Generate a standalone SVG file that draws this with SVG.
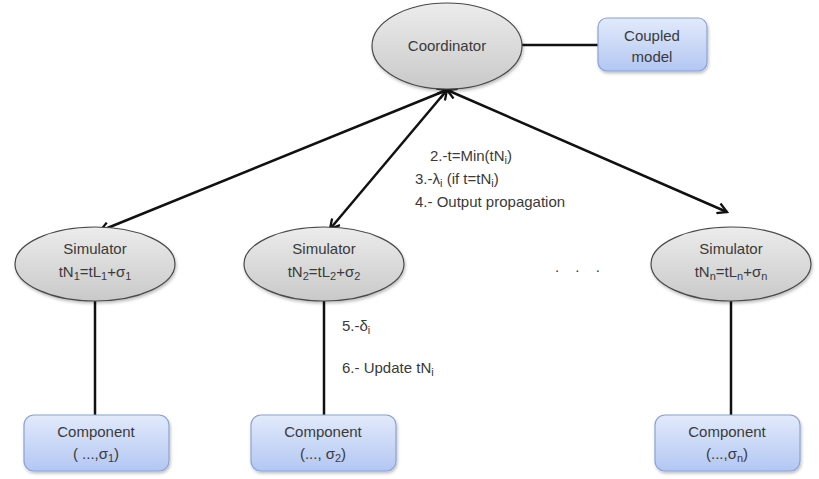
<svg xmlns="http://www.w3.org/2000/svg" width="819" height="479" viewBox="0 0 819 479">
<defs>
<linearGradient id="gGray" x1="0" y1="0" x2="0" y2="1">
<stop offset="0" stop-color="#ececec"/><stop offset="1" stop-color="#c9c9c9"/>
</linearGradient>
<linearGradient id="gBlue" x1="0" y1="0" x2="0" y2="1">
<stop offset="0" stop-color="#e2eafb"/><stop offset="1" stop-color="#b3c7f3"/>
</linearGradient>
<marker id="arr" viewBox="0 0 12 12" refX="10" refY="6" markerWidth="5" markerHeight="5" orient="auto-start-reverse">
<path d="M1,1 L10,6 L1,11" fill="none" stroke="#111" stroke-width="2.2" stroke-linejoin="miter"/>
</marker>
<filter id="sh" x="-10%" y="-10%" width="130%" height="140%">
<feDropShadow dx="1" dy="2" stdDeviation="1.5" flood-color="#000" flood-opacity="0.25"/>
</filter>
</defs>
<style>
.ell{fill:url(#gGray);stroke:#4a4a4a;stroke-width:1.2}
.box{fill:url(#gBlue);stroke:#8aa2d6;stroke-width:1.2}
.t{font-family:"Liberation Sans","Open Sans",sans-serif;font-size:15px;fill:#3a3a3a}
.c{text-anchor:middle}
.ln{stroke:#111;stroke-width:2.5;fill:none}
.s{font-size:11px}
</style>
<rect width="819" height="479" fill="#fff"/>
<g id="connectors">
<line class="ln" x1="521" y1="45" x2="598" y2="45"/>
<line class="ln" x1="447" y1="90" x2="100" y2="231" marker-start="url(#arr)" marker-end="url(#arr)"/>
<line class="ln" x1="447" y1="90" x2="330" y2="229" marker-start="url(#arr)" marker-end="url(#arr)"/>
<line class="ln" x1="447" y1="90" x2="727" y2="212" marker-start="url(#arr)" marker-end="url(#arr)"/>
<line class="ln" x1="95" y1="301" x2="95" y2="415"/>
<line class="ln" x1="324" y1="301" x2="324" y2="415"/>
<line class="ln" x1="731" y1="301" x2="731" y2="415"/>
<text class="t" x="430" y="161">2.-t=Min(tN<tspan class="s" dy="3">i</tspan><tspan dy="-3">)</tspan></text>
<text class="t" x="415" y="184">3.-λ<tspan class="s" dy="3">i</tspan><tspan dy="-3"> (if t=tN</tspan><tspan class="s" dy="3">i</tspan><tspan dy="-3">)</tspan></text>
<text class="t" x="415" y="207">4.- Output propagation</text>
<text class="t" x="342" y="331">5.-δ<tspan class="s" dy="3">i</tspan></text>
<text class="t" x="342" y="373">6.- Update tN<tspan class="s" dy="3">i</tspan></text>
</g>
<g id="coordinator">
<ellipse class="ell" cx="447" cy="46" rx="75" ry="43" filter="url(#sh)"/>
<text class="t c" x="447" y="51">Coordinator</text>
</g>
<g id="coupled-model">
<rect class="box" x="598" y="18" width="109" height="53" rx="9" filter="url(#sh)"/>
<text class="t c" x="652" y="41">Coupled</text>
<text class="t c" x="652" y="62">model</text>
</g>
<g id="simulator-1">
<ellipse class="ell" cx="95" cy="264" rx="80" ry="37" filter="url(#sh)"/>
<text class="t c" x="95" y="254">Simulator</text>
<text class="t c" x="95" y="277">tN<tspan class="s" dy="3">1</tspan><tspan dy="-3">=tL</tspan><tspan class="s" dy="3">1</tspan><tspan dy="-3">+σ</tspan><tspan class="s" dy="3">1</tspan></text>
</g>
<g id="simulator-2">
<ellipse class="ell" cx="324" cy="264" rx="80" ry="37" filter="url(#sh)"/>
<text class="t c" x="324" y="254">Simulator</text>
<text class="t c" x="324" y="277">tN<tspan class="s" dy="3">2</tspan><tspan dy="-3">=tL</tspan><tspan class="s" dy="3">2</tspan><tspan dy="-3">+σ</tspan><tspan class="s" dy="3">2</tspan></text>
</g>
<g id="dots">
<text class="t" x="555" y="272" style="letter-spacing:6px">. . .</text>
</g>
<g id="simulator-n">
<ellipse class="ell" cx="731" cy="264" rx="80" ry="37" filter="url(#sh)"/>
<text class="t c" x="731" y="254">Simulator</text>
<text class="t c" x="731" y="277">tN<tspan class="s" dy="3">n</tspan><tspan dy="-3">=tL</tspan><tspan class="s" dy="3">n</tspan><tspan dy="-3">+σ</tspan><tspan class="s" dy="3">n</tspan></text>
</g>
<g id="component-1">
<rect class="box" x="24" y="415" width="145" height="56" rx="10" filter="url(#sh)"/>
<text class="t c" x="96" y="437">Component</text>
<text class="t c" x="96" y="459">( ...,σ<tspan class="s" dy="3">1</tspan><tspan dy="-3">)</tspan></text>
</g>
<g id="component-2">
<rect class="box" x="251" y="415" width="145" height="56" rx="10" filter="url(#sh)"/>
<text class="t c" x="323" y="437">Component</text>
<text class="t c" x="323" y="459">(..., σ<tspan class="s" dy="3">2</tspan><tspan dy="-3">)</tspan></text>
</g>
<g id="component-n">
<rect class="box" x="655" y="415" width="145" height="56" rx="10" filter="url(#sh)"/>
<text class="t c" x="727" y="437">Component</text>
<text class="t c" x="727" y="459">(...,σ<tspan class="s" dy="3">n</tspan><tspan dy="-3">)</tspan></text>
</g>
</svg>
